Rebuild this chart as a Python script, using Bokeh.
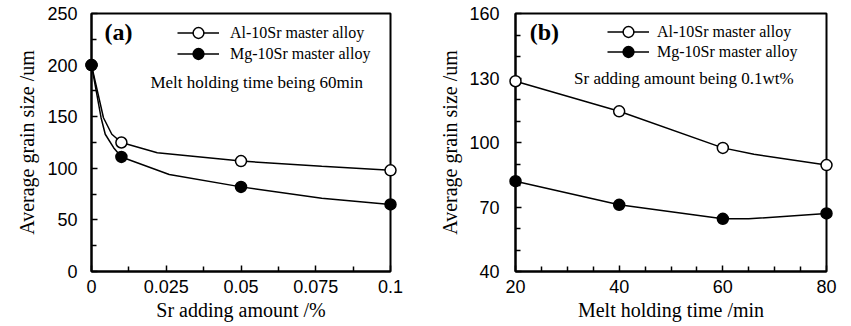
from bokeh.plotting import figure
from bokeh.layouts import row
from bokeh.models import Range1d, FixedTicker, Label, Legend, LegendItem, Title
from bokeh.embed import file_html
from bokeh.resources import INLINE

# ---------------- Panel (a): grain size vs Sr adding amount ----------------
sr_amount = [0, 0.01, 0.05, 0.1]
al_a = [200, 125, 107, 98]
mg_a = [200, 111, 82, 65]
# smooth curve traces
al_a_curve_x = [0, 0.004, 0.0068, 0.01, 0.022, 0.05, 0.077, 0.1]
al_a_curve_y = [200, 149, 133, 125, 115, 107, 102, 98]
mg_a_curve_x = [0, 0.0032, 0.0046, 0.0074, 0.01, 0.026, 0.05, 0.077, 0.1]
mg_a_curve_y = [200, 149, 133, 120, 111, 94, 82, 71, 65]
a_xticks = [0, 0.025, 0.05, 0.075, 0.1]
a_xtick_labels = ["0", "0.025", "0.05", "0.075", "0.1"]
a_xminor = [0.0125, 0.0375, 0.0625, 0.0875]
a_yticks = [0, 50, 100, 150, 200, 250]
a_yminor = [25, 75, 125, 175, 225]

# ---------------- Panel (b): grain size vs melt holding time ----------------
hold_time = [20, 40, 60, 80]
al_b = [128.5, 114.5, 97.5, 89.5]
mg_b = [82, 71, 64.5, 67]
al_b_curve_x = [20, 40, 60, 66, 80]
al_b_curve_y = [128.5, 114.5, 97.5, 94.5, 89.5]
mg_b_curve_x = [20, 40, 60, 65, 80]
mg_b_curve_y = [82, 71, 64.5, 64.5, 67]
b_xticks = [20, 40, 60, 80]
b_xtick_labels = ["20", "40", "60", "80"]
b_xminor = [25, 30, 35, 45, 50, 55, 65, 70, 75]
b_yticks = [40, 70, 100, 130, 160]
b_yminor = [50, 60, 80, 90, 110, 120, 140, 150]

series_labels = ["Al-10Sr master alloy", "Mg-10Sr master alloy"]
y_title = "Average grain size /um"

SERIF = "Liberation Serif"
SANS = "Liberation Sans"


def make_panel(width, min_left, min_right, min_top, min_bottom, xr, yr,
               xticks, xlabels, xminor, yticks, yminor, ylab_standoff, ytitle_standoff,
               xpts, al, mg, alcx, alcy, mgcx, mgcy, legend_locs, legend_standoff,
               panel_tag, tag_pos, note, note_pos, xtitle):
    p = figure(width=width, height=326, output_backend="svg", toolbar_location=None,
               x_range=Range1d(*xr), y_range=Range1d(*yr),
               min_border_left=min_left, min_border_right=min_right,
               min_border_top=min_top, min_border_bottom=min_bottom)
    p.grid.visible = False
    p.outline_line_color = "black"
    p.outline_line_width = 2
    p.background_fill_color = "white"
    p.border_fill_color = "white"

    # axes
    p.xaxis.ticker = FixedTicker(ticks=xticks, minor_ticks=xminor)
    p.xaxis.major_label_overrides = {t: l for t, l in zip(xticks, xlabels)}
    p.yaxis.ticker = FixedTicker(ticks=yticks, minor_ticks=yminor)
    for ax in (p.xaxis[0], p.yaxis[0]):
        ax.axis_line_width = 2
        ax.axis_line_color = "black"
        ax.major_tick_in = 6
        ax.major_tick_out = 0
        ax.minor_tick_in = 5
        ax.minor_tick_out = 0
        ax.major_tick_line_width = 1.5
        ax.minor_tick_line_width = 1.5
        ax.major_tick_line_color = "black"
        ax.minor_tick_line_color = "black"
        ax.major_label_text_font = SANS
        ax.major_label_text_font_size = "18px"
        ax.major_label_text_color = "black"
    p.xaxis.major_label_standoff = 8
    p.yaxis.major_label_standoff = ylab_standoff
    p.yaxis.major_label_text_baseline = "hanging"

    # axis titles as side-panel titles (serif)
    p.add_layout(Title(text=xtitle, align="center", text_font=SERIF,
                       text_font_size="20px", text_font_style="normal",
                       text_color="black", standoff=3), "below")
    p.add_layout(Title(text=y_title, align="center", text_font=SERIF,
                       text_font_size="20px", text_font_style="normal",
                       text_color="black", standoff=ytitle_standoff), "left")

    # curves
    al_line = p.line(alcx, alcy, line_color="black", line_width=1.5)
    mg_line = p.line(mgcx, mgcy, line_color="black", line_width=1.5)
    al_pts = p.scatter(xpts, al, size=11, marker="circle", fill_color="white",
                       line_color="black", line_width=1.5, level="overlay")
    mg_pts = p.scatter(xpts, mg, size=11, marker="circle", fill_color="black",
                       line_color="black", line_width=1.5, level="overlay")

    for label, rends, loc in ((series_labels[0], [al_line, al_pts], legend_locs[0]),
                              (series_labels[1], [mg_line, mg_pts], legend_locs[1])):
        legend = Legend(items=[LegendItem(label=label, renderers=rends)],
                        location=loc, glyph_width=42, glyph_height=27,
                        padding=0, margin=0, label_standoff=legend_standoff,
                        border_line_alpha=0, background_fill_alpha=0,
                        label_text_font=SERIF, label_text_font_size="16px",
                        label_text_color="black")
        p.add_layout(legend)

    p.add_layout(Label(x=tag_pos[0], y=tag_pos[1], text=panel_tag, text_font=SERIF,
                       text_font_size="24px", text_font_style="bold",
                       text_align="left", text_baseline="middle", text_color="black"))
    p.add_layout(Label(x=note_pos[0], y=note_pos[1], text=note, text_font=SERIF,
                       text_font_size="17px", text_align="left", text_baseline="middle",
                       text_color="black"))
    return p


pa = make_panel(430, 91, 40, 13, 55, (0, 0.1), (0, 250),
                a_xticks, a_xtick_labels, a_xminor, a_yticks, a_yminor, 14, 14,
                sr_amount, al_a, mg_a, al_a_curve_x, al_a_curve_y, mg_a_curve_x, mg_a_curve_y,
                [(86, 225), (86, 204)], 11,
                "(a)", (0.00435, 232), "Melt holding time being 60min", (0.0197, 183.4),
                "Sr adding amount /%")

pb = make_panel(421, 83, 25, 13, 54, (20, 80), (40, 160),
                b_xticks, b_xtick_labels, b_xminor, b_yticks, b_yminor, 16, 12,
                hold_time, al_b, mg_b, al_b_curve_x, al_b_curve_y, mg_b_curve_x, mg_b_curve_y,
                [(92, 226), (92, 206)], 8,
                "(b)", (22.74, 151.4), "Sr adding amount being 0.1wt%", (31.31, 129.8),
                "Melt holding time /min")

layout = row(pa, pb)
open("out.html", "w").write(file_html(layout, INLINE))
